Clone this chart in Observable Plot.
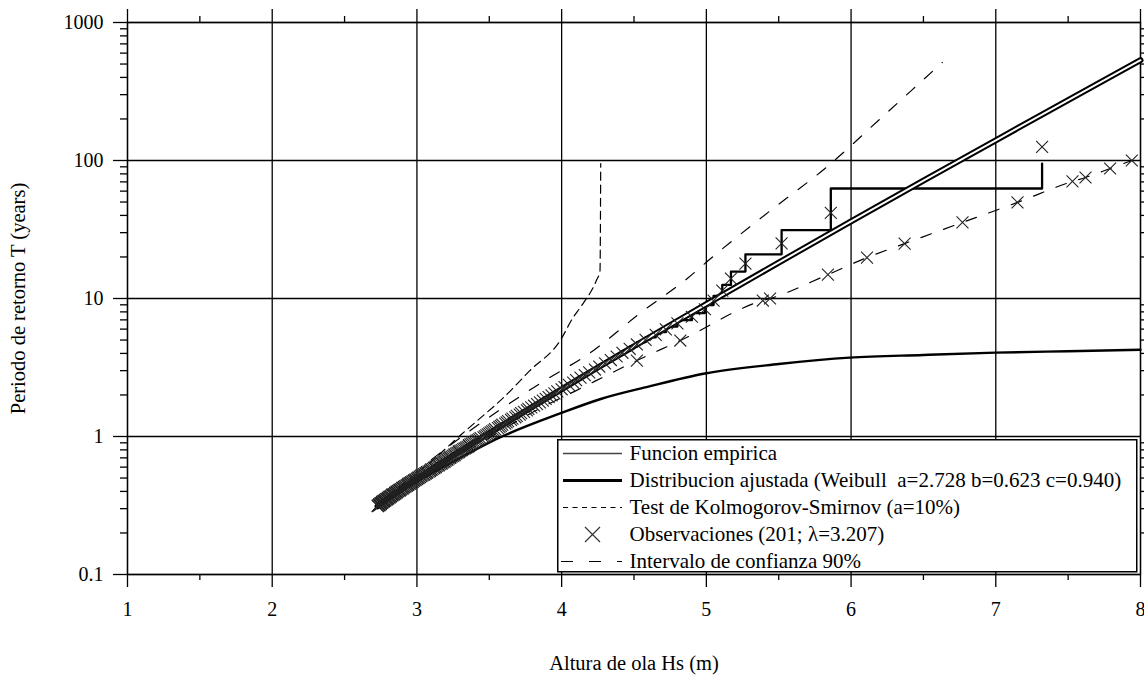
<!DOCTYPE html>
<html>
<head>
<meta charset="utf-8">
<script src="https://cdn.jsdelivr.net/npm/d3@7"></script>
<script src="https://cdn.jsdelivr.net/npm/@observablehq/plot@0.6"></script>
<style>
  body { margin: 0; background: #fff; }
  #chart { position: relative; width: 1144px; height: 683px; overflow: hidden; }
  #chart svg, #chart svg text { font-family: "Liberation Serif", "DejaVu Serif", serif !important; }
  #legend { position: absolute; left: 557px; top: 439px; }
</style>
</head>
<body>
<div id="chart"></div>
<script>
// Axis ticks
const xTicks = [1, 2, 3, 4, 5, 6, 7, 8];
const xMinorTicks = [1.5, 2.5, 3.5, 4.5, 5.5, 6.5, 7.5];
const yTicks = [0.1, 1, 10, 100, 1000];
const yTickLabels = ["0.1", "1", "10", "100", "1000"];
const yMinorTicks = [0.2, 0.3, 0.4, 0.5, 0.6, 0.7, 0.8, 0.9,
  2, 3, 4, 5, 6, 7, 8, 9, 20, 30, 40, 50, 60, 70, 80, 90,
  200, 300, 400, 500, 600, 700, 800, 900];

// Observed significant wave heights (m), largest first
const obsHs = [
  7.32, 5.86, 5.52, 5.27, 5.17, 5.11, 5.05,
  4.99, 4.90, 4.80, 4.72, 4.65, 4.58,
  4.52, 4.47, 4.42, 4.38, 4.34, 4.30, 4.26,
  4.23, 4.19, 4.16, 4.13, 4.10, 4.08, 4.05, 4.02, 4.00, 3.97,
  3.95, 3.93, 3.91, 3.89, 3.87, 3.85, 3.83, 3.81, 3.79, 3.77,
  3.76, 3.74, 3.72, 3.71, 3.69, 3.68, 3.66, 3.65, 3.63, 3.62,
  3.61, 3.59, 3.58, 3.57, 3.56, 3.54, 3.53, 3.52, 3.51, 3.50,
  3.49, 3.48, 3.47, 3.46, 3.44, 3.43, 3.42, 3.41, 3.40, 3.39,
  3.38, 3.37, 3.36, 3.36, 3.35, 3.34, 3.33, 3.32, 3.31, 3.30,
  3.29, 3.29, 3.28, 3.27, 3.26, 3.26, 3.25, 3.24, 3.23, 3.23,
  3.22, 3.21, 3.21, 3.20, 3.19, 3.19, 3.18, 3.17, 3.17, 3.16,
  3.15, 3.15, 3.14, 3.13, 3.13, 3.12, 3.12, 3.11, 3.10, 3.10,
  3.09, 3.09, 3.08, 3.07, 3.07, 3.06, 3.06, 3.05, 3.05, 3.04,
  3.03, 3.03, 3.02, 3.02, 3.01, 3.01, 3.00, 3.00, 2.99, 2.99,
  2.98, 2.98, 2.97, 2.97, 2.96, 2.96, 2.95, 2.95, 2.94, 2.94,
  2.94, 2.93, 2.93, 2.92, 2.92, 2.91, 2.91, 2.90, 2.90, 2.90,
  2.89, 2.89, 2.88, 2.88, 2.88, 2.87, 2.87, 2.86, 2.86, 2.86,
  2.85, 2.85, 2.85, 2.84, 2.84, 2.83, 2.83, 2.83, 2.82, 2.82,
  2.82, 2.81, 2.81, 2.81, 2.80, 2.80, 2.80, 2.79, 2.79, 2.79,
  2.78, 2.78, 2.78, 2.77, 2.77, 2.77, 2.76, 2.76, 2.76, 2.76,
  2.75, 2.75, 2.75, 2.75, 2.74, 2.74, 2.74, 2.74, 2.73, 2.73, 2.73
];

// Return period (years) at which each observation is plotted
const obsT = [
  125.4, 41.79, 25.07, 17.91, 13.93, 11.40, 9.643, 8.357, 7.374, 6.598,
  5.970, 5.450, 5.014, 4.643, 4.323, 4.044, 3.799, 3.582, 3.388, 3.214,
  3.058, 2.915, 2.786, 2.667, 2.558, 2.458, 2.365, 2.279, 2.199, 2.125,
  2.055, 1.990, 1.929, 1.871, 1.817, 1.766, 1.717, 1.671, 1.628, 1.587,
  1.548, 1.510, 1.475, 1.441, 1.409, 1.378, 1.348, 1.320, 1.292, 1.266,
  1.241, 1.217, 1.194, 1.172, 1.150, 1.129, 1.109, 1.090, 1.071, 1.053,
  1.036, 1.019, 1.003, 0.987, 0.972, 0.957, 0.943, 0.929, 0.915, 0.902,
  0.889, 0.877, 0.865, 0.853, 0.841, 0.830, 0.819, 0.809, 0.798, 0.788,
  0.779, 0.769, 0.760, 0.751, 0.742, 0.733, 0.725, 0.716, 0.708, 0.700,
  0.693, 0.685, 0.678, 0.670, 0.663, 0.656, 0.650, 0.643, 0.636, 0.630,
  0.624, 0.618, 0.612, 0.606, 0.600, 0.594, 0.589, 0.583, 0.578, 0.572,
  0.567, 0.562, 0.557, 0.552, 0.547, 0.543, 0.538, 0.533, 0.529, 0.524,
  0.520, 0.516, 0.512, 0.507, 0.503, 0.499, 0.495, 0.492, 0.488, 0.484,
  0.480, 0.477, 0.473, 0.469, 0.466, 0.463, 0.459, 0.456, 0.453, 0.449,
  0.446, 0.443, 0.440, 0.437, 0.434, 0.431, 0.428, 0.425, 0.422, 0.419,
  0.416, 0.414, 0.411, 0.408, 0.406, 0.403, 0.401, 0.398, 0.395, 0.393,
  0.391, 0.388, 0.386, 0.383, 0.381, 0.379, 0.376, 0.374, 0.372, 0.370,
  0.368, 0.365, 0.363, 0.361, 0.359, 0.357, 0.355, 0.353, 0.351, 0.349,
  0.347, 0.345, 0.343, 0.341, 0.340, 0.338, 0.336, 0.334, 0.333, 0.331,
  0.329, 0.327, 0.326, 0.324, 0.322, 0.321, 0.319, 0.317, 0.316, 0.314,
  0.313
];

// Empirical return period step levels, one per observation (largest first)
const stepT = [
  95, 62.68, 31.34, 20.89, 15.67, 12.54, 10.45, 8.954, 7.835, 6.964,
  6.268, 5.698, 5.223, 4.822, 4.477, 4.179, 3.918, 3.687, 3.482, 3.299,
  3.134, 2.985, 2.849, 2.725, 2.612, 2.507, 2.411, 2.321, 2.239, 2.161,
  2.089, 2.022, 1.959, 1.899, 1.844, 1.791, 1.741, 1.694, 1.649, 1.607,
  1.567, 1.529, 1.492, 1.458, 1.425, 1.393, 1.363, 1.334, 1.306, 1.279,
  1.254, 1.229, 1.205, 1.183, 1.161, 1.140, 1.119, 1.100, 1.081, 1.062,
  1.045, 1.028, 1.011, 0.995, 0.979, 0.964, 0.950, 0.936, 0.922, 0.908,
  0.895, 0.883, 0.871, 0.859, 0.847, 0.836, 0.825, 0.814, 0.804, 0.793,
  0.784, 0.774, 0.764, 0.755, 0.746, 0.737, 0.729, 0.720, 0.712, 0.704,
  0.696, 0.689, 0.681, 0.674, 0.667, 0.660, 0.653, 0.646, 0.640, 0.633,
  0.627, 0.621, 0.615, 0.609, 0.603, 0.597, 0.591, 0.586, 0.580, 0.575,
  0.570, 0.565, 0.560, 0.555, 0.550, 0.545, 0.540, 0.536, 0.531, 0.527,
  0.522, 0.518, 0.514, 0.510, 0.505, 0.501, 0.497, 0.494, 0.490, 0.486,
  0.482, 0.478, 0.475, 0.471, 0.468, 0.464, 0.461, 0.458, 0.454, 0.451,
  0.448, 0.445, 0.441, 0.438, 0.435, 0.432, 0.429, 0.426, 0.424, 0.421,
  0.418, 0.415, 0.412, 0.410, 0.407, 0.404, 0.402, 0.399, 0.397, 0.394,
  0.392, 0.389, 0.387, 0.385, 0.382, 0.380, 0.378, 0.375, 0.373, 0.371,
  0.369, 0.367, 0.364, 0.362, 0.360, 0.358, 0.356, 0.354, 0.352, 0.350,
  0.348, 0.346, 0.344, 0.343, 0.341, 0.339, 0.337, 0.335, 0.333, 0.332,
  0.330, 0.328, 0.326, 0.325, 0.323, 0.321, 0.320, 0.318, 0.317, 0.315,
  0.313
];

// Fitted Weibull distribution (a=2.728 b=0.623 c=0.940)
const fitHs = [2.728, 2.75, 2.8, 2.9, 3.0, 3.25, 3.5, 3.75, 4.0, 4.25, 4.5, 5.0, 5.5, 6.0, 6.5, 7.0, 7.5, 8.0];
const fitT  = [0.312, 0.326, 0.356, 0.420, 0.493, 0.727, 1.06, 1.53, 2.20, 3.16, 4.51, 9.1, 18.2, 36.2, 71.5, 140, 274, 533];

// Kolmogorov-Smirnov band: upper branch (dashed) and lower branch
const ksUpHs = [2.73, 2.9, 3.1, 3.3, 3.42, 3.6, 3.78, 3.99, 4.08, 4.13, 4.24, 4.265, 4.27];
const ksUpT  = [0.33, 0.45, 0.66, 1.02, 1.31, 1.92, 3.0, 4.96, 7.3, 8.65, 13.5, 15.8, 95];
const ksLoHs = [2.73, 3.0, 3.23, 3.57, 3.99, 4.27, 4.6, 4.99, 5.5, 5.99, 6.5, 7.0, 7.5, 8.0];
const ksLoT  = [0.31, 0.47, 0.64, 0.98, 1.47, 1.87, 2.3, 2.86, 3.35, 3.73, 3.9, 4.05, 4.15, 4.25];

// 90% confidence interval
const ciUpHs = [3.1, 3.3, 3.85, 4.22, 4.54, 4.87, 5.03, 5.4, 5.86, 6.2, 6.63];
const ciUpT  = [0.68, 0.98, 2.42, 4.2, 7.8, 14.0, 19.5, 40, 95, 200, 513];
const ciLoHs = [3.2, 3.5, 3.8, 4.1, 4.52, 4.82, 5.39, 5.44, 5.84, 6.11, 6.37, 6.77, 7.15, 7.53, 7.62, 7.79, 7.94];
const ciLoT  = [0.62, 0.98, 1.5, 2.15, 3.55, 4.96, 9.67, 10.0, 14.9, 19.8, 25.0, 35.6, 49.7, 70.5, 75.3, 87.5, 100];

// Markers along the lower confidence limit
const ciMarkHs = [4.52, 4.82, 5.39, 5.44, 5.84, 6.11, 6.37, 6.77, 7.15, 7.53, 7.62, 7.79, 7.94];
const ciMarkT  = [3.55, 4.96, 9.67, 10.0, 14.9, 19.8, 25.0, 35.6, 49.7, 70.5, 75.3, 87.5, 100];

// Legend entries
const legendLabels = [
  "Funcion empirica",
  "Distribucion ajustada (Weibull  a=2.728 b=0.623 c=0.940)",
  "Test de Kolmogorov-Smirnov (a=10%)",
  "Observaciones (201; \u03bb=3.207)",
  "Intervalo de confianza 90%"
];

const pts = (xs, ys) => xs.map((x, i) => ({x, y: ys[i]}));
const obs = obsHs.map((h, i) => ({x: h, y: obsT[i]}));
const steps = obsHs.map((h, i) => ({x: h, y: stepT[i]}));

const ink = "#000";
const serif = "'Liberation Serif', 'DejaVu Serif', serif";
const yLabel = d => yTickLabels[yTicks.indexOf(d)];

const chart = Plot.plot({
  width: 1144,
  height: 683,
  marginLeft: 127,
  marginRight: 4,
  marginTop: 22,
  marginBottom: 109,
  style: {fontFamily: serif, fontSize: "20px", color: "#000", background: "#fff"},
  x: {domain: [1, 8]},
  y: {type: "log", domain: [0.1, 1000]},
  marks: [
    Plot.gridX(xTicks, {stroke: ink, strokeOpacity: 1, strokeWidth: 1.3}),
    Plot.gridY(yTicks, {stroke: ink, strokeOpacity: 1, strokeWidth: 1.3}),
    Plot.frame({stroke: ink, strokeWidth: 1.3}),
    Plot.axisX(xTicks, {anchor: "bottom", tickSize: 13, tickPadding: 14, tickFormat: d => String(d), fontSize: 20, label: null, strokeWidth: 1.3}),
    Plot.axisX(xTicks, {anchor: "top", tickSize: 14, tickFormat: () => "", label: null, strokeWidth: 1.3}),
    Plot.axisX(xMinorTicks, {anchor: "bottom", tickSize: 6, tickFormat: () => "", label: null, strokeWidth: 1.3}),
    Plot.axisX(xMinorTicks, {anchor: "top", tickSize: 7, tickFormat: () => "", label: null, strokeWidth: 1.3}),
    Plot.axisY(yTicks, {anchor: "left", tickSize: 14, tickPadding: 10, tickFormat: yLabel, fontSize: 20, label: null, strokeWidth: 1.3}),
    Plot.axisY(yMinorTicks, {anchor: "left", tickSize: 7, tickFormat: () => "", label: null, strokeWidth: 1.3}),
    Plot.axisY(yMinorTicks, {anchor: "right", tickSize: 7, tickFormat: () => "", label: null, strokeWidth: 1.3}),

    // Kolmogorov-Smirnov band
    Plot.line(pts(ksUpHs, ksUpT), {x: "x", y: "y", stroke: ink, strokeWidth: 1.2, strokeDasharray: "8,5", curve: "monotone-x"}),
    Plot.line(pts(ksLoHs, ksLoT), {x: "x", y: "y", stroke: ink, strokeWidth: 2.4, curve: "monotone-x"}),

    // 90% confidence interval
    Plot.line(pts(ciUpHs, ciUpT), {x: "x", y: "y", stroke: ink, strokeWidth: 1.2, strokeDasharray: "11,13", curve: "monotone-x"}),
    Plot.line(pts(ciLoHs, ciLoT), {x: "x", y: "y", stroke: ink, strokeWidth: 1.2, strokeDasharray: "11,13", curve: "monotone-x"}),
    Plot.dot(pts(ciMarkHs, ciMarkT), {x: "x", y: "y", symbol: "times", r: 5.5, stroke: "#222", strokeWidth: 1.1}),

    // Empirical distribution (step function)
    Plot.line(steps, {x: "x", y: "y", stroke: ink, strokeWidth: 2.3, curve: "step-before"}),

    // Fitted distribution drawn as a double line
    Plot.line(pts(fitHs, fitT), {x: "x", y: "y", stroke: ink, strokeWidth: 6, curve: "monotone-x"}),
    Plot.line(pts(fitHs, fitT), {x: "x", y: "y", stroke: "#fff", strokeWidth: 2, curve: "monotone-x"}),

    // Observations
    Plot.dot(obs, {x: "x", y: "y", symbol: "times", r: 5.5, stroke: "#222", strokeWidth: 1.1}),

    // Axis titles
    Plot.text(["Altura de ola Hs (m)"], {frameAnchor: "bottom", dy: 89, fontSize: 20.5, lineAnchor: "middle", textAnchor: "middle", fill: ink}),
    Plot.text(["Periodo de retorno T (years)"], {frameAnchor: "left", dx: -109, rotate: -90, fontSize: 20.5, lineAnchor: "middle", textAnchor: "middle", fill: ink})
  ]
});

const host = document.getElementById("chart");
host.appendChild(chart);

// Legend box inside the plotting area
const lg = d3.select(host).append("svg")
  .attr("id", "legend")
  .attr("width", 581)
  .attr("height", 134)
  .style("font-family", serif)
  .style("font-size", "21px");

lg.append("rect").attr("x", 0.75).attr("y", 0.75).attr("width", 579).attr("height", 132)
  .attr("fill", "#fff").attr("stroke", ink).attr("stroke-width", 1.5);

const rowY = i => 14.5 + i * 27;
const sx1 = 6, sx2 = 65;

lg.append("line").attr("x1", sx1).attr("x2", sx2).attr("y1", rowY(0)).attr("y2", rowY(0))
  .attr("stroke", "#444").attr("stroke-width", 1.6);
lg.append("line").attr("x1", sx1).attr("x2", sx2).attr("y1", rowY(1)).attr("y2", rowY(1))
  .attr("stroke", ink).attr("stroke-width", 3);
lg.append("line").attr("x1", sx1).attr("x2", sx2).attr("y1", rowY(2)).attr("y2", rowY(2))
  .attr("stroke", ink).attr("stroke-width", 1.2).attr("stroke-dasharray", "5,4.5");
const cx = 35.5, cy = rowY(3), s = 7.5;
lg.append("path").attr("d", `M${cx - s},${cy - s}L${cx + s},${cy + s}M${cx - s},${cy + s}L${cx + s},${cy - s}`)
  .attr("stroke", "#333").attr("stroke-width", 1.2).attr("fill", "none");
lg.append("line").attr("x1", 4).attr("x2", sx2).attr("y1", rowY(4)).attr("y2", rowY(4))
  .attr("stroke", ink).attr("stroke-width", 1.2).attr("stroke-dasharray", "12,16");

lg.selectAll("text.lab").data(legendLabels).join("text")
  .attr("class", "lab")
  .attr("x", 72.5)
  .attr("y", (d, i) => rowY(i))
  .attr("dy", "0.32em")
  .style("white-space", "pre")
  .attr("fill", ink)
  .text(d => d);
</script>
</body>
</html>
